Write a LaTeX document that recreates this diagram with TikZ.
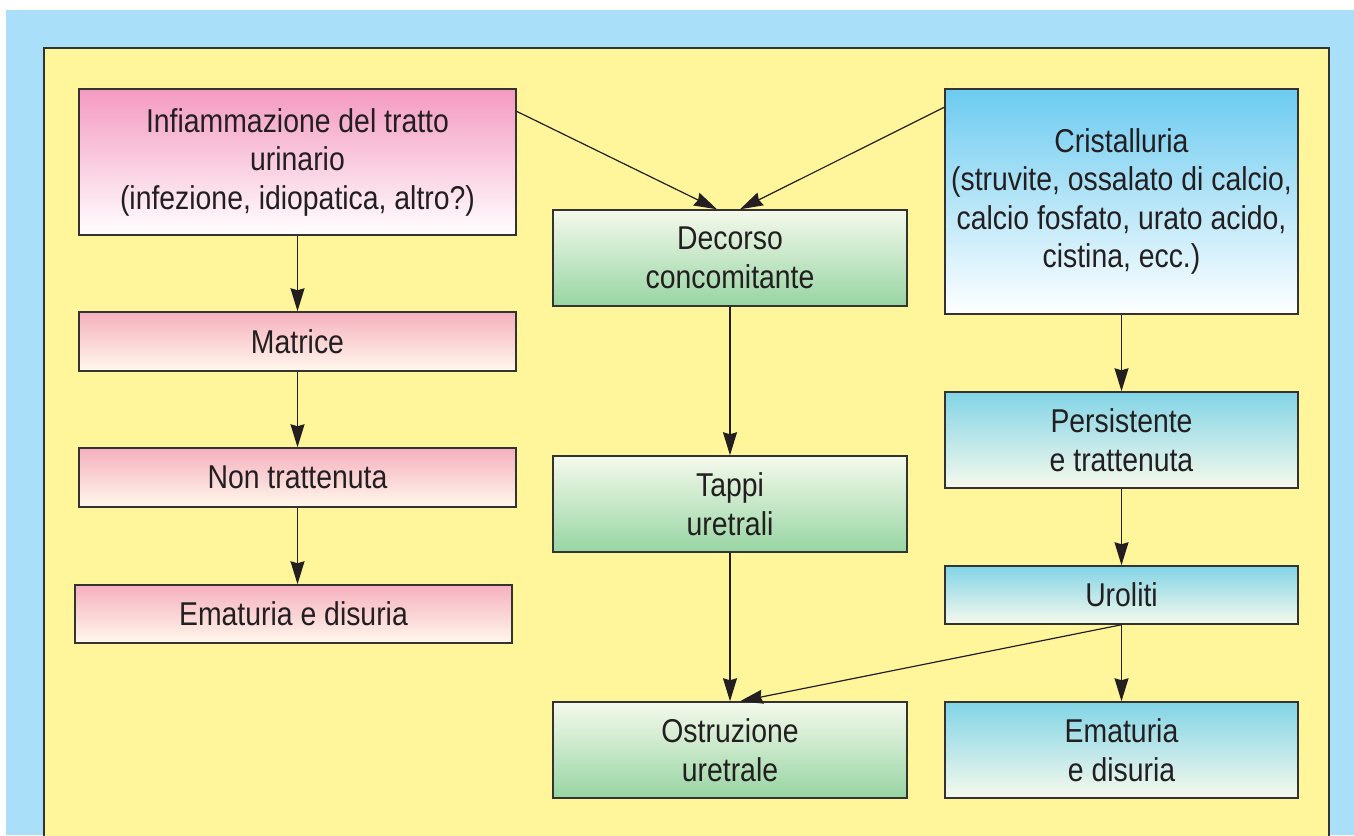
\documentclass[tikz,border=0pt]{standalone}
\usepackage{fontspec}
\setmainfont{Liberation Sans}[FakeStretch=0.86]
\usetikzlibrary{arrows.meta}
\definecolor{bgblue}{HTML}{A9DFF8}
\definecolor{paper}{HTML}{FFF59B}
\definecolor{ink}{HTML}{231F20}
\definecolor{boxline}{HTML}{333333}
\definecolor{pinktop}{HTML}{F49AC1}
\definecolor{pinkmid}{HTML}{F5B0BE}
\definecolor{pinkbot}{HTML}{FFF8EC}
\definecolor{greentop}{HTML}{F5F9EC}
\definecolor{greenbot}{HTML}{97D5A3}
\definecolor{bluetop}{HTML}{6CCBF0}
\definecolor{bluemid}{HTML}{82D4E6}
\definecolor{bluebot}{HTML}{F6F9EC}
\begin{document}
\begin{tikzpicture}[x=1pt,y=-1pt,
    box/.style={draw=boxline,line width=1.5pt,align=center,text=ink,inner sep=0pt,
      font=\fontsize{33}{38.5}\selectfont},
    pinkbox/.style={box,top color=pinkmid,bottom color=pinkbot,minimum width=437pt},
    greenbox/.style={box,top color=greentop,bottom color=greenbot,minimum width=354pt,minimum height=96pt},
    bluebox/.style={box,top color=bluemid,bottom color=bluebot,minimum width=353pt},
    link/.style={-{Stealth[length=23pt,width=14pt,inset=2pt]},line width=1.2pt,draw=ink}]
  \useasboundingbox (0,0) rectangle (1354,835);
  \fill[bgblue] (6,10) rectangle (1354,835);
  \draw[fill=paper,draw=boxline,line width=2pt] (44,48) rectangle (1329,860);
  % left column
  \node[pinkbox,top color=pinktop,bottom color=white,minimum height=146pt] (infl) at (297.5,162)
    {Infiammazione del tratto\\urinario\\(infezione, idiopatica, altro?)};
  \node[pinkbox,minimum height=59pt] (matrice) at (297.5,341.5) {Matrice};
  \node[pinkbox,minimum height=59pt] (nontratt) at (297.5,477.5) {Non trattenuta};
  \node[pinkbox,minimum height=58pt] (emaL) at (293.5,614) {Ematuria e disuria};
  % middle column
  \node[greenbox] (decorso) at (730,258) {Decorso\\concomitante};
  \node[greenbox] (tappi) at (730,504) {Tappi\\uretrali};
  \node[greenbox] (ostr) at (730,750) {Ostruzione\\uretrale};
  % right column
  \node[bluebox,top color=bluetop,bottom color=white,minimum height=225pt] (crist) at (1121.5,201.5)
    {Cristalluria\\(struvite, ossalato di calcio,\\calcio fosfato, urato acido,\\cistina, ecc.)};
  \node[bluebox,minimum height=96pt] (persist) at (1121.5,440) {Persistente\\e trattenuta};
  \node[bluebox,minimum height=58pt] (uroliti) at (1121.5,595) {Uroliti};
  \node[bluebox,minimum height=96pt] (emaR) at (1121.5,750) {Ematuria\\e disuria};
  % connectors
  \draw[link] (infl.13) -- ([xshift=-13pt]decorso.north);
  \draw[link] (crist.152.6) -- ([xshift=10pt]decorso.north);
  \draw[link] (infl) -- (matrice); \draw[link] (matrice) -- (nontratt);
  \draw[link] (nontratt.south) -- (nontratt.south |- emaL.north);
  \draw[link] (decorso) -- (tappi); \draw[link] (tappi) -- (ostr);
  \draw[link] (crist) -- (persist); \draw[link] (persist) -- (uroliti);
  \draw[link] (uroliti) -- (emaR);
  \draw[link] (uroliti.south) -- ([xshift=10pt]ostr.north);
\end{tikzpicture}
\end{document}
